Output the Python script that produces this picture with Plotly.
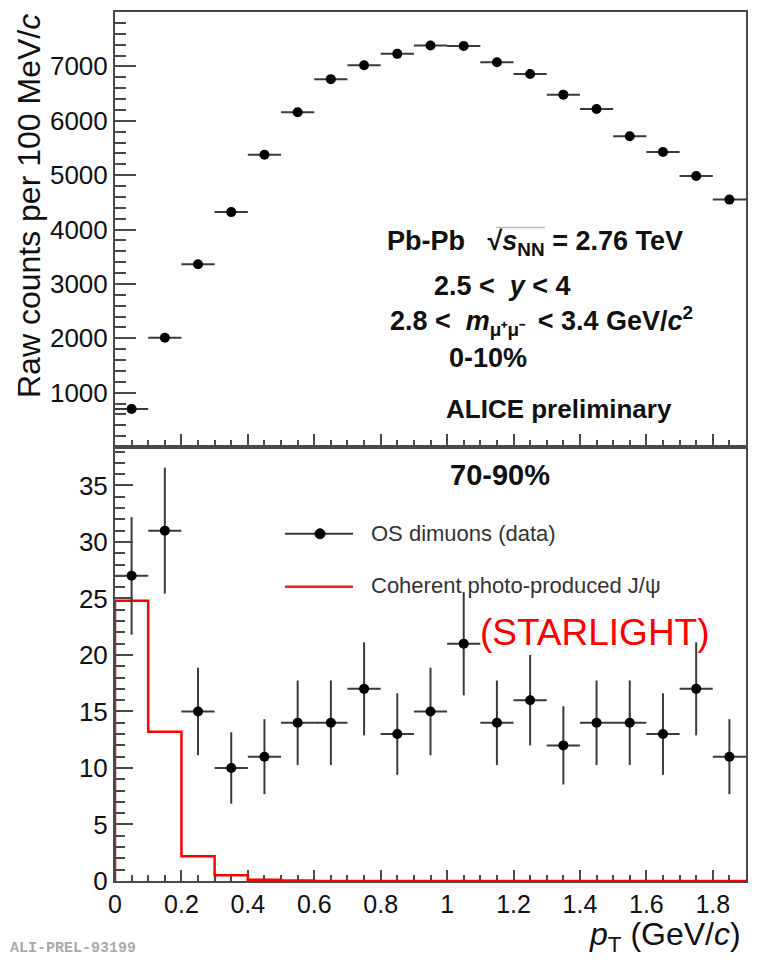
import plotly.graph_objects as go

# ---------------- data ----------------
pt_centers = [0.05, 0.15, 0.25, 0.35, 0.45, 0.55, 0.65, 0.75, 0.85, 0.95,
              1.05, 1.15, 1.25, 1.35, 1.45, 1.55, 1.65, 1.75, 1.85]
counts_0_10 = [700, 2010, 3360, 4320, 5375, 6155, 6765, 7020, 7230, 7385,
               7375, 7075, 6860, 6480, 6215, 5715, 5425, 4985, 4550]
counts_70_90 = [27, 31, 15, 10, 11, 14, 14, 17, 13, 15,
                21, 14, 16, 12, 14, 14, 13, 17, 11]
err_70_90 = [5.20, 5.57, 3.87, 3.16, 3.32, 3.74, 3.74, 4.12, 3.61, 3.87,
             4.58, 3.74, 4.00, 3.46, 3.74, 3.74, 3.61, 4.12, 3.32]
starlight_edges = [0.0, 0.1, 0.2, 0.3, 0.4, 0.5, 0.6, 0.7, 0.8, 0.9, 1.0,
                   1.1, 1.2, 1.3, 1.4, 1.5, 1.6, 1.7, 1.8, 1.9]
starlight_values = [24.8, 13.2, 2.2, 0.5, 0.1, 0.04, 0, 0, 0, 0,
                    0, 0, 0, 0, 0, 0, 0, 0, 0]
bin_half_width = 0.05

top_ytick_vals = [1000, 2000, 3000, 4000, 5000, 6000, 7000]
bot_ytick_vals = [0, 5, 10, 15, 20, 25, 30, 35]
xtick_vals = [0, 0.2, 0.4, 0.6, 0.8, 1.0, 1.2, 1.4, 1.6, 1.8]
xtick_text = ["0", "0.2", "0.4", "0.6", "0.8", "1", "1.2", "1.4", "1.6", "1.8"]

# ---------------- geometry helpers (pixels -> paper) ----------------
W, H = 762, 960
L, R, T, B = 115, 16, 10, 79
PW, PH = W - L - R, H - T - B


def px(x):
    return (x - L) / PW


def py(y):
    return (H - B - y) / PH


split = py(446)
FONT = "Liberation Sans, Arial, Helvetica, sans-serif"
FRAME = "#4a4a4a"
ERRC = "#3a3a3a"

fig = go.Figure()

fig.add_trace(go.Scatter(
    x=pt_centers, y=counts_0_10, mode="markers",
    marker=dict(color="black", size=10),
    error_x=dict(type="constant", value=bin_half_width, color=ERRC, thickness=2, width=0),
    xaxis="x", yaxis="y", showlegend=False))

fig.add_trace(go.Scatter(
    x=[starlight_edges[0]] + starlight_edges, y=[0] + starlight_values + [starlight_values[-1]],
    mode="lines", line=dict(color="#ff0000", width=2.5, shape="hv"),
    xaxis="x2", yaxis="y2", showlegend=False, cliponaxis=False))

fig.add_trace(go.Scatter(
    x=pt_centers, y=counts_70_90, mode="markers",
    marker=dict(color="black", size=10),
    error_x=dict(type="constant", value=bin_half_width, color=ERRC, thickness=2, width=0),
    error_y=dict(type="data", array=err_70_90, color=ERRC, thickness=2, width=0),
    xaxis="x2", yaxis="y2", showlegend=False))

axis_common = dict(showline=True, linecolor=FRAME, linewidth=2, mirror=True,
                   showgrid=False, zeroline=False, ticks="inside", tickcolor=FRAME,
                   tickwidth=1.5, tickfont=dict(family=FONT, size=26, color="#111"))

fig.update_layout(
    width=W, height=H, margin=dict(l=L, r=R, t=T, b=B),
    paper_bgcolor="white", plot_bgcolor="white",
    xaxis=dict(axis_common, domain=[0, 1], anchor="y", range=[0, 1.9],
               tickvals=xtick_vals, showticklabels=False, ticklen=13,
               minor=dict(dtick=0.05, tick0=0, ticks="inside", ticklen=7, tickcolor=FRAME)),
    yaxis=dict(axis_common, domain=[split, 1], anchor="x", range=[0, 8000],
               tickvals=top_ytick_vals, ticklen=21,
               minor=dict(dtick=200, tick0=0, ticks="inside", ticklen=11, tickcolor=FRAME)),
    xaxis2=dict(axis_common, domain=[0, 1], anchor="y2", range=[0, 1.9],
                tickvals=xtick_vals, ticktext=xtick_text, ticklen=11, layer="below traces",
                tickfont=dict(family=FONT, size=25, color="#111"),
                minor=dict(dtick=0.05, tick0=0, ticks="inside", ticklen=6, tickcolor=FRAME)),
    yaxis2=dict(axis_common, domain=[0, split], anchor="x2", range=[0, 38.4],
                tickvals=bot_ytick_vals, ticklen=18,
                minor=dict(dtick=1, tick0=0, ticks="inside", ticklen=10, tickcolor=FRAME)),
)


def ann(text, x, y, size, xanchor="center", yanchor="middle", color="#111", bold=False,
        family=FONT, angle=0):
    fig.add_annotation(text=("<b>%s</b>" % text) if bold else text,
                       x=px(x), y=py(y), xref="paper", yref="paper",
                       xanchor=xanchor, yanchor=yanchor, showarrow=False,
                       textangle=angle, font=dict(family=family, size=size, color=color))


# top panel texts
ann("Pb-Pb   √<i>s</i><sub>NN</sub> = 2.76 TeV", 535, 242, 27, bold=True)
ann("2.5 <  <i>y</i> < 4", 502, 285, 27, bold=True)
ann("2.8 <  <i>m</i><sub>μ⁺μ⁻ </sub> < 3.4 GeV/<i>c</i><sup>2</sup>", 541, 320, 27, bold=True)
ann("0-10%", 488, 357, 27, bold=True)
ann("ALICE preliminary", 559, 408, 26, bold=True)

# bottom panel texts
ann("70-90%", 500, 474, 29, bold=True)
ann("OS dimuons (data)", 369, 533, 22, xanchor="left", color="#333")
ann("Coherent photo-produced J/ψ", 369, 585, 22, xanchor="left", color="#333")
ann("(STARLIGHT)", 595, 632, 37, color="#ff0000")

# axis titles
ann("Raw counts per 100 MeV/<i>c</i>", 29, 10, 32, yanchor="top", angle=-90)
ann("<i>p</i><sub>T</sub> (GeV/<i>c</i>)", 743, 937, 32, xanchor="right")
ann("<b>ALI-PREL-93199</b>", 8, 949, 15, xanchor="left", color="#aaaaaa",
    family="Liberation Mono, Courier New, monospace")

# legend symbols and sqrt bar
fig.add_shape(type="line", xref="paper", yref="paper", x0=px(285), x1=px(353), y0=py(533), y1=py(533),
              line=dict(color=ERRC, width=2))
fig.add_shape(type="circle", xref="paper", yref="paper", x0=px(315), x1=px(325), y0=py(538), y1=py(528),
              fillcolor="black", line=dict(color="black", width=1))
fig.add_shape(type="line", xref="paper", yref="paper", x0=px(285), x1=px(353), y0=py(586), y1=py(586),
              line=dict(color="#ee2222", width=2.5))
fig.add_shape(type="line", xref="paper", yref="paper", x0=px(496), x1=px(545), y0=py(226), y1=py(226),
              line=dict(color="#bbbbbb", width=1.5))

fig.write_html("out.html")
